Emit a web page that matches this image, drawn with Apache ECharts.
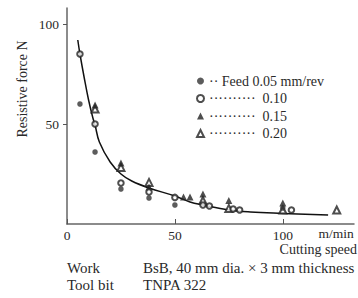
<!DOCTYPE html>
<html><head><meta charset="utf-8">
<script src="https://cdn.jsdelivr.net/npm/echarts@6/dist/echarts.min.js"></script>
<style>html,body{margin:0;padding:0;background:#fff}#c{width:358px;height:298px}</style>
</head><body><div id="c"></div>
<script>
// fitted curve
const curveSpeed = [5, 6, 8, 10, 12, 13, 15, 20, 25, 30, 38, 50, 57, 63, 75, 85, 100, 121];
const curveForce = [92, 85, 73, 62, 53, 49.5, 41, 31, 25, 21.5, 18, 14, 11, 9.5, 7, 6, 5.3, 4.5];
// measured points per feed
const feed005 = [[6, 60], [13, 36], [25, 17.5], [38, 13], [50, 9.5], [100, 8]];
const feed010 = [[6, 85], [13, 50], [25, 20.5], [38, 16], [50, 13.3], [63, 9.5], [66, 9], [77, 7.5], [80, 7], [104, 7]];
const feed015 = [[13, 59.5], [25, 30.5], [38, 18.5], [54, 13.5], [57, 13.5], [63, 15], [75, 11.7], [100, 10.5]];
const feed020 = [[13, 57.5], [25, 28.3], [38, 20.8], [63, 11.7], [75, 7.8], [100, 7], [125, 7]];
const legendNames = ['Feed 0.05 mm/rev', '0.10', '0.15', '0.20'];
const xTicks = [0, 50, 100];
const yTicks = [50, 100];

const FONT = 'Liberation Serif';
const INK = '#2a2a2a';
const chart = echarts.init(document.getElementById('c'), null, {renderer: 'svg'});
const curve = curveSpeed.map((s, i) => [s, curveForce[i]]);
const leaders = {
  'Feed 0.05 mm/rev': '·· Feed 0.05 mm/rev',
  '0.10': '··········  0.10',
  '0.15': '··········  0.15',
  '0.20': '··········  0.20'
};
function txt(x, y, text, size, align) {
  return {type: 'text', x: x, y: y,
    style: {text: text, fontFamily: FONT, fontSize: size, fill: INK, align: align, verticalAlign: 'middle'}};
}
chart.setOption({
  animation: false,
  textStyle: {fontFamily: FONT, color: INK},
  grid: {left: 67, right: 4, top: 8, bottom: 74},
  xAxis: {
    type: 'value', min: 0, max: 133, interval: 50,
    axisLine: {lineStyle: {color: '#666', width: 1.5}},
    axisTick: {inside: true, length: 5, lineStyle: {color: '#555'}},
    splitLine: {show: false},
    axisLabel: {
      fontFamily: FONT, fontSize: 13.5, color: INK, margin: 4, showMaxLabel: false,
      formatter: v => xTicks.includes(v) ? String(v) : ''
    }
  },
  yAxis: {
    type: 'value', min: 0, max: 108, interval: 50,
    axisLine: {show: true, lineStyle: {color: '#666', width: 1.5}},
    axisTick: {show: true, length: 4, lineStyle: {color: '#555'}},
    splitLine: {show: false},
    axisLabel: {
      fontFamily: FONT, fontSize: 13.5, color: INK, margin: 8,
      showMinLabel: false, showMaxLabel: false,
      formatter: v => yTicks.includes(v) ? String(v) : ''
    }
  },
  legend: {
    data: legendNames,
    orient: 'vertical', left: 196, top: 74,
    itemWidth: 7, itemHeight: 7, itemGap: 3.5, padding: 0,
    textStyle: {fontFamily: FONT, fontSize: 14, color: INK, lineHeight: 14},
    formatter: n => leaders[n]
  },
  series: [
    {type: 'line', data: curve, smooth: 0.4, symbol: 'none', silent: true,
     lineStyle: {color: '#111', width: 1.5}, z: 1},
    {name: legendNames[3], type: 'scatter', data: feed020, symbol: 'emptyTriangle', symbolSize: 7,
     itemStyle: {color: '#222', borderColor: '#222', borderWidth: 1}, z: 2},
    {name: legendNames[2], type: 'scatter', data: feed015, symbol: 'triangle', symbolSize: 7,
     itemStyle: {color: '#222'}, z: 3},
    {name: legendNames[1], type: 'scatter', data: feed010, symbol: 'emptyCircle', symbolSize: 5.5,
     itemStyle: {color: '#222', borderColor: '#222', borderWidth: 1}, z: 4},
    {name: legendNames[0], type: 'scatter', data: feed005, symbol: 'circle', symbolSize: 5.5,
     itemStyle: {color: '#333'}, z: 5}
  ],
  graphic: [
    {type: 'text', x: 22, y: 89, rotation: Math.PI / 2,
     style: {text: 'Resistive force N', fontFamily: FONT, fontSize: 14, fill: INK, align: 'center', verticalAlign: 'middle'}},
    txt(336, 233, 'm/min', 13.5, 'center'),
    txt(357, 249, 'Cutting speed', 14, 'right'),
    txt(67, 268, 'Work', 15, 'left'),
    txt(67, 285, 'Tool bit', 15, 'left'),
    txt(143, 268, 'BsB, 40 mm dia. × 3 mm thickness', 15, 'left'),
    txt(143, 285, 'TNPA 322', 15, 'left')
  ]
});
</script></body></html>
